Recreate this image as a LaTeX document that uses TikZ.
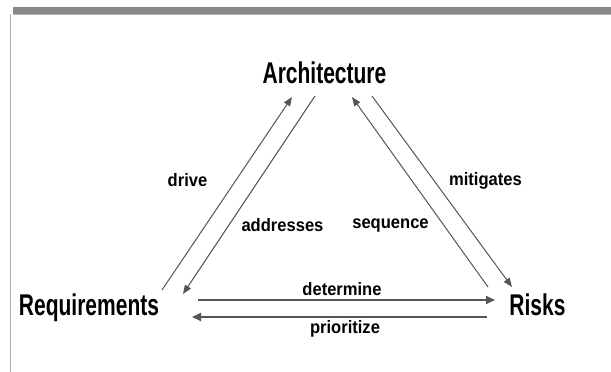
\documentclass[tikz,border=0pt]{standalone}
\usepackage{fontspec}
\usepackage{graphicx}
\setmainfont{Liberation Sans}
\usetikzlibrary{arrows.meta}
\definecolor{arrowgray}{HTML}{555555}
\definecolor{bargray}{HTML}{8A8A8A}
\definecolor{edgegray}{HTML}{B0B0B0}
\newcommand{\bigtxt}[1]{\scalebox{0.70}[1]{\fontsize{30}{30}\selectfont\bfseries #1}}
\newcommand{\smalltxt}[1]{\scalebox{0.92}[1]{\fontsize{18}{18}\selectfont\bfseries #1}}
\tikzset{
  concept/.style={anchor=base, inner sep=0pt, outer sep=0pt},
  relation/.style={anchor=base, inner sep=0pt, outer sep=0pt},
  diagarrow/.style={draw=arrowgray, line width=1pt, -{Triangle[length=9pt, width=7pt]}},
  horizarrow/.style={draw=arrowgray, line width=2pt, -{Triangle[length=9pt, width=8pt]}},
}
\begin{document}
\begin{tikzpicture}[x=1pt, y=-1pt]
\useasboundingbox (0,0) rectangle (611,372);
% frame
\fill[bargray] (13,7) rectangle (611,14);
\draw[edgegray, line width=0.8pt] (13,14.5) -- (611,14.5);
\draw[edgegray, line width=1.5pt] (10.5,14) -- (10.5,372);
% concept nodes
\node[concept] (arch) at (324.5,83) {\bigtxt{Architecture}};
\node[concept] (req) at (89,315) {\bigtxt{Requirements}};
\node[concept] (risks) at (537.5,315) {\bigtxt{Risks}};
% relation labels
\node[relation] (drive) at (187.5,186) {\smalltxt{drive}};
\node[relation] (addresses) at (282.5,231) {\smalltxt{addresses}};
\node[relation] (mitigates) at (485.5,185) {\smalltxt{mitigates}};
\node[relation] (sequence) at (390.5,228) {\smalltxt{sequence}};
\node[relation] (determine) at (342,295) {\smalltxt{determine}};
\node[relation] (prioritize) at (345,333) {\smalltxt{prioritize}};
% arrow end points
\coordinate (driveS) at (162,290);
\coordinate (driveE) at (292,97);
\coordinate (addrS) at (315,96);
\coordinate (addrE) at (183,294);
\coordinate (seqS) at (488,287);
\coordinate (seqE) at (352,97);
\coordinate (mitS) at (372,96);
\coordinate (mitE) at (512,287);
\coordinate (detS) at (198,300);
\coordinate (detE) at (495,300);
\coordinate (priS) at (487,317);
\coordinate (priE) at (192,317);
% connectors
\draw[diagarrow] (driveS) -- (driveE);
\draw[diagarrow] (addrS) -- (addrE);
\draw[diagarrow] (seqS) -- (seqE);
\draw[diagarrow] (mitS) -- (mitE);
\draw[horizarrow] (detS) -- (detE);
\draw[horizarrow] (priS) -- (priE);
\end{tikzpicture}
\end{document}
